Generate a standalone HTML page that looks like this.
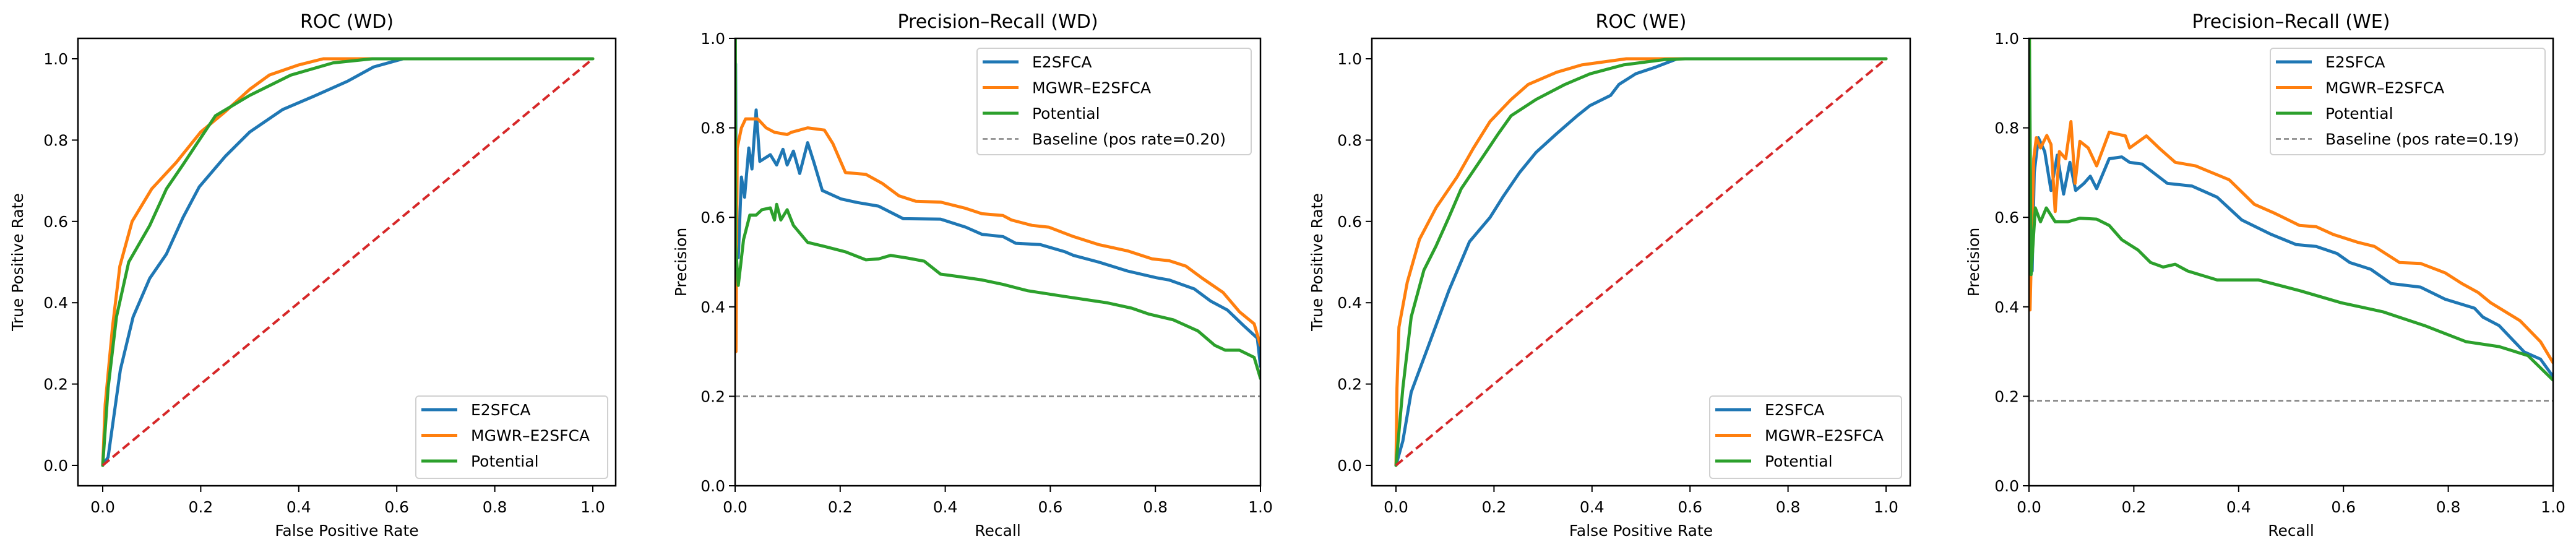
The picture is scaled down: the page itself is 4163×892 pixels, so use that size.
<!DOCTYPE html>
<html><head><meta charset="utf-8"><style>
html,body{margin:0;padding:0;background:#fff;}
svg{display:block;font-family:"DejaVu Sans","Liberation Sans",sans-serif;}
</style></head><body>
<svg id="fig" width="4163" height="892" viewBox="0 0 4163 892" xmlns="http://www.w3.org/2000/svg"></svg>
<script>
// ---- data ----
const seriesNames = ["E2SFCA","MGWR–E2SFCA","Potential"];
const colors = ["#1f77b4","#ff7f0e","#2ca02c"];
const ticks = [0,0.2,0.4,0.6,0.8,1.0];
const tickLabels = ["0.0","0.2","0.4","0.6","0.8","1.0"];

const rocWdE2X = [0,0.011,0.036,0.062,0.096,0.13,0.164,0.197,0.25,0.3,0.367,0.435,0.5,0.553,0.613,1];
const rocWdE2Y = [0,0.02,0.235,0.365,0.46,0.52,0.61,0.685,0.76,0.82,0.875,0.91,0.945,0.98,1,1];
const rocWdMgX = [0,0.005,0.02,0.035,0.06,0.1,0.15,0.2,0.25,0.3,0.34,0.4,0.45,1];
const rocWdMgY = [0,0.15,0.34,0.49,0.6,0.68,0.745,0.82,0.87,0.925,0.96,0.985,1,1];
const rocWdPoX = [0,0.011,0.028,0.053,0.096,0.13,0.164,0.197,0.23,0.3,0.384,0.47,0.55,1];
const rocWdPoY = [0,0.19,0.365,0.5,0.59,0.68,0.74,0.8,0.86,0.91,0.96,0.99,1,1];

const rocWeE2X = [0,0.014,0.031,0.065,0.108,0.15,0.192,0.218,0.252,0.286,0.328,0.37,0.396,0.438,0.455,0.489,0.531,0.574,1];
const rocWeE2Y = [0,0.06,0.18,0.29,0.43,0.55,0.61,0.66,0.72,0.77,0.816,0.86,0.885,0.91,0.937,0.963,0.98,1,1];
const rocWeMgX = [0,0.002,0.006,0.023,0.048,0.082,0.125,0.158,0.192,0.235,0.27,0.328,0.379,0.47,1];
const rocWeMgY = [0,0.19,0.34,0.45,0.556,0.634,0.71,0.78,0.846,0.9,0.937,0.967,0.985,1,1];
const rocWePoX = [0,0.014,0.031,0.057,0.082,0.108,0.133,0.175,0.209,0.235,0.286,0.345,0.396,0.464,0.548,0.59,1];
const rocWePoY = [0,0.19,0.365,0.48,0.54,0.61,0.68,0.755,0.816,0.86,0.9,0.937,0.963,0.985,0.998,1,1];

const prWdE2R = [0.001,0.002,0.006,0.012,0.018,0.026,0.032,0.04,0.047,0.067,0.079,0.091,0.099,0.111,0.123,0.138,0.15,0.166,0.202,0.233,0.273,0.32,0.391,0.439,0.47,0.51,0.534,0.581,0.628,0.644,0.692,0.747,0.802,0.826,0.874,0.905,0.937,0.968,0.994,1];
const prWdE2P = [0.943,0.613,0.51,0.69,0.645,0.755,0.708,0.84,0.725,0.74,0.717,0.752,0.717,0.748,0.698,0.767,0.723,0.66,0.641,0.633,0.625,0.597,0.596,0.578,0.562,0.557,0.542,0.539,0.523,0.515,0.5,0.48,0.465,0.46,0.44,0.413,0.393,0.358,0.33,0.267];
const prWdMgR = [0.0016,0.004,0.012,0.02,0.043,0.059,0.075,0.099,0.107,0.138,0.17,0.186,0.21,0.249,0.28,0.312,0.344,0.391,0.439,0.47,0.51,0.526,0.565,0.597,0.644,0.692,0.747,0.794,0.826,0.858,0.889,0.929,0.96,0.988,1];
const prWdMgP = [0.3,0.755,0.8,0.82,0.82,0.8,0.79,0.785,0.79,0.8,0.795,0.765,0.7,0.696,0.676,0.648,0.636,0.634,0.62,0.608,0.604,0.594,0.582,0.578,0.557,0.539,0.525,0.507,0.503,0.491,0.464,0.432,0.389,0.362,0.314];
const prWdPoR = [0.0005,0.001,0.006,0.01,0.016,0.028,0.04,0.051,0.067,0.075,0.079,0.087,0.099,0.111,0.138,0.17,0.21,0.249,0.273,0.296,0.328,0.36,0.391,0.423,0.47,0.51,0.557,0.628,0.708,0.755,0.787,0.834,0.881,0.913,0.933,0.96,0.988,1];
const prWdPoP = [1.0,0.54,0.448,0.488,0.55,0.605,0.605,0.617,0.621,0.594,0.629,0.594,0.617,0.582,0.544,0.535,0.523,0.505,0.507,0.515,0.509,0.502,0.473,0.468,0.46,0.45,0.436,0.423,0.409,0.397,0.384,0.371,0.346,0.314,0.303,0.303,0.287,0.24];

const prWeE2R = [0.001,0.002,0.006,0.01,0.018,0.03,0.042,0.054,0.066,0.078,0.089,0.105,0.117,0.129,0.153,0.177,0.192,0.216,0.264,0.311,0.359,0.406,0.462,0.51,0.548,0.588,0.612,0.652,0.691,0.747,0.794,0.85,0.866,0.897,0.945,0.976,1];
const prWeE2P = [0.975,0.613,0.48,0.7,0.778,0.747,0.66,0.739,0.652,0.723,0.66,0.676,0.692,0.664,0.731,0.735,0.723,0.719,0.676,0.67,0.645,0.594,0.562,0.539,0.535,0.519,0.499,0.484,0.452,0.444,0.417,0.397,0.377,0.358,0.299,0.283,0.244];
const prWeMgR = [0.0008,0.002,0.005,0.009,0.014,0.022,0.034,0.042,0.05,0.058,0.07,0.08,0.088,0.097,0.113,0.129,0.153,0.184,0.192,0.224,0.248,0.279,0.318,0.382,0.43,0.469,0.516,0.548,0.58,0.628,0.659,0.707,0.747,0.794,0.826,0.857,0.881,0.937,0.976,1];
const prWeMgP = [1.0,0.393,0.535,0.731,0.778,0.755,0.783,0.763,0.613,0.747,0.731,0.814,0.676,0.77,0.755,0.715,0.79,0.782,0.755,0.782,0.755,0.723,0.715,0.684,0.629,0.609,0.582,0.579,0.562,0.544,0.535,0.499,0.497,0.476,0.452,0.432,0.409,0.369,0.322,0.275];
const prWePoR = [0.0008,0.004,0.012,0.022,0.033,0.05,0.074,0.097,0.129,0.153,0.177,0.208,0.232,0.256,0.279,0.303,0.359,0.438,0.517,0.596,0.675,0.755,0.834,0.897,0.952,1];
const prWePoP = [1.0,0.472,0.621,0.59,0.621,0.59,0.59,0.598,0.596,0.582,0.55,0.527,0.499,0.489,0.495,0.48,0.46,0.46,0.436,0.409,0.389,0.358,0.322,0.311,0.291,0.236];

const baselineWd = 0.20;
const baselineWe = 0.19;

// ---- drawing ----
const NS = "http://www.w3.org/2000/svg";
const svg = document.getElementById("fig");
function mk(tag, attrs, parent, text){
  const e = document.createElementNS(NS, tag);
  for (const k in attrs) e.setAttribute(k, attrs[k]);
  if (text !== undefined) e.textContent = text;
  (parent||svg).appendChild(e);
  return e;
}

function panel(cfg){
  const g = mk("g", {});
  
  
  const top = 62, bottom = 785;
  const sx = v => cfg.x0 + (cfg.x1 - cfg.x0) * v;
  const sy = v => cfg.y0 + (cfg.y1 - cfg.y0) * v;
  const t = mk("text", {x:(cfg.left+cfg.right)/2, y:45, "font-size":30, "text-anchor":"middle", fill:"#000"}, g, cfg.title);
  
  
  const cp = mk("clipPath", {id:"clip-"+cfg.id}, g);
  mk("rect", {x:cfg.left, y:top, width:cfg.right-cfg.left, height:bottom-top}, cp);
  if (cfg.baseline !== undefined){
    const b = mk("line", {x1:cfg.left, x2:cfg.right, y1:sy(cfg.baseline), y2:sy(cfg.baseline), stroke:"#808080", "stroke-width":2.5, "stroke-dasharray":"8,5"}, g);
    
    
  }
  const lines = mk("g", {"clip-path":"url(#clip-"+cfg.id+")"}, g);
  cfg.series.forEach((s, i) => {
    const d = s[0].map((xv, j) => (j ? "L" : "M") + sx(xv).toFixed(1) + "," + sy(s[1][j]).toFixed(1)).join(" ");
    const p = mk("path", {d:d, fill:"none", stroke:colors[i], "stroke-width":5, "stroke-linejoin":"round", "stroke-linecap":"round"}, lines);
    
    
  });
  if (cfg.diag){
    const dl = mk("line", {x1:sx(0), y1:sy(0), x2:sx(1), y2:sy(1), stroke:"#d62728", "stroke-width":4, "stroke-dasharray":"14,7"}, lines);
    
    
  }
  const fr = mk("rect", {x:cfg.left, y:top, width:cfg.right-cfg.left, height:bottom-top, fill:"none", stroke:"#000", "stroke-width":2.5}, g);
  
  
  ticks.forEach((v, i) => {
    mk("line", {x1:sx(v), x2:sx(v), y1:bottom, y2:bottom+10, stroke:"#000", "stroke-width":2}, g);
    const xt = mk("text", {x:sx(v), y:828, "font-size":25, "text-anchor":"middle"}, g, tickLabels[i]);
    
    
    mk("line", {x1:cfg.left-10, x2:cfg.left, y1:sy(v), y2:sy(v), stroke:"#000", "stroke-width":2}, g);
    const yt = mk("text", {x:cfg.left-16, y:sy(v)+9, "font-size":25, "text-anchor":"end"}, g, tickLabels[i]);
    
    
  });
  const xl = mk("text", {x:(cfg.left+cfg.right)/2, y:866, "font-size":25, "text-anchor":"middle"}, g, cfg.xlabel);
  
  
  const yl = mk("text", {x:0, y:0, "font-size":25, "text-anchor":"middle", transform:"translate("+(cfg.ylx)+","+((top+bottom)/2)+") rotate(-90)"}, g, cfg.ylabel);
  
  
  const L = cfg.legend;
  const lg = mk("g", {}, g);
  
  
  mk("rect", {x:L.x, y:L.y, width:L.w, height:L.h, rx:5, fill:"#fff", "fill-opacity":0.8, stroke:"#d0d0d0", "stroke-width":2}, lg);
  const entries = seriesNames.map((n, i) => ({name:n, color:colors[i], dash:null}));
  if (cfg.baseline !== undefined) entries.push({name:"Baseline (pos rate=" + cfg.baseline.toFixed(2) + ")", color:"#808080", dash:"8,5"});
  entries.forEach((e, i) => {
    const yy = L.y + 22 + i * 41.5;
    const ln = mk("line", {x1:L.x+9, x2:L.x+67, y1:yy, y2:yy, stroke:e.color, "stroke-width":e.dash?2.5:5}, lg);
    if (e.dash) ln.setAttribute("stroke-dasharray", e.dash);
    const tx = mk("text", {x:L.x+89, y:yy+9, "font-size":25}, lg, e.name);
    
    
  });
}

panel({id:"roc-wd", title:"ROC (WD)", left:126, right:995, x0:166, x1:958, y0:752, y1:95,
  xlabel:"False Positive Rate", ylabel:"True Positive Rate", ylx:37, diag:true,
  series:[[rocWdE2X,rocWdE2Y],[rocWdMgX,rocWdMgY],[rocWdPoX,rocWdPoY]],
  legend:{x:672, y:640, w:310, h:133}});
panel({id:"pr-wd", title:"Precision–Recall (WD)", left:1188, right:2037, x0:1188, x1:2037, y0:785, y1:62,
  xlabel:"Recall", ylabel:"Precision", ylx:1109, baseline:baselineWd,
  series:[[prWdE2R,prWdE2P],[prWdMgR,prWdMgP],[prWdPoR,prWdPoP]],
  legend:{x:1579, y:78, w:443, h:172}});
panel({id:"roc-we", title:"ROC (WE)", left:2217, right:3087, x0:2256, x1:3048, y0:752, y1:95,
  xlabel:"False Positive Rate", ylabel:"True Positive Rate", ylx:2137, diag:true,
  series:[[rocWeE2X,rocWeE2Y],[rocWeMgX,rocWeMgY],[rocWePoX,rocWePoY]],
  legend:{x:2763, y:640, w:310, h:133}});
panel({id:"pr-we", title:"Precision–Recall (WE)", left:3279, right:4126, x0:3279, x1:4126, y0:785, y1:62,
  xlabel:"Recall", ylabel:"Precision", ylx:3198, baseline:baselineWe,
  series:[[prWeE2R,prWeE2P],[prWeMgR,prWeMgP],[prWePoR,prWePoP]],
  legend:{x:3669, y:78, w:444, h:172}});
</script>
</body></html>
